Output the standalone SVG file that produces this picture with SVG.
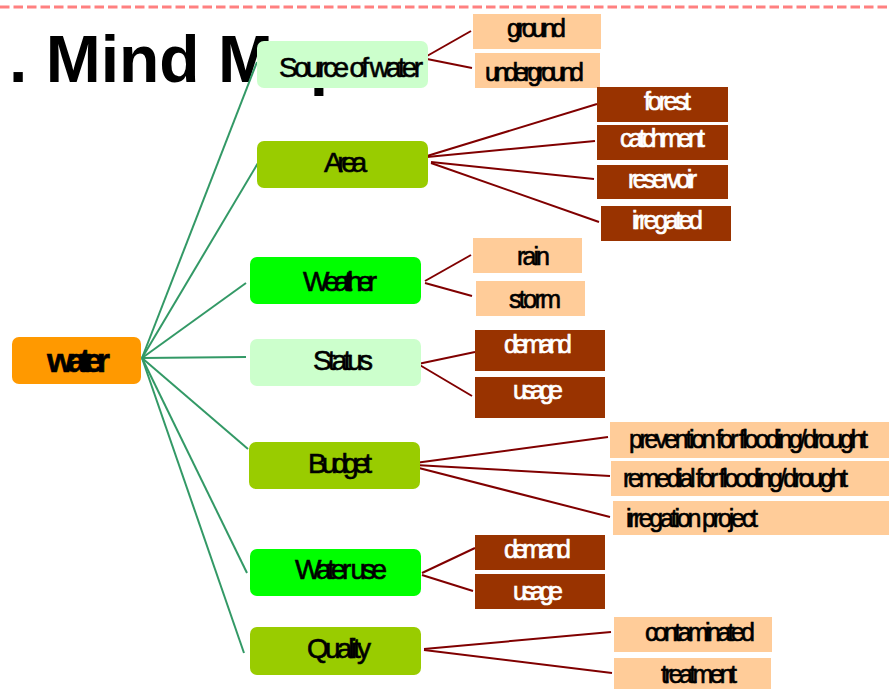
<svg xmlns="http://www.w3.org/2000/svg" width="889" height="689" viewBox="0 0 889 689">
<style>
.title{font-family:"Liberation Sans",Arial,sans-serif;font-weight:bold;font-size:66px;fill:#000}
.t{font-family:"Liberation Sans",Arial,sans-serif;fill:#000;stroke:#000;stroke-width:0.6}
.m{font-size:28px}
.l{font-size:25px}
.w{fill:#fff;stroke:#fff}
.g1{fill:#CCFFCC}
.g2{fill:#99CC00}
.g3{fill:#00FF00}
.or{fill:#FF9900}
.pe{fill:#FFCC99}
.br{fill:#993300}
.gc line{stroke:#339966;stroke-width:2}
.rc line{stroke:#800000;stroke-width:2}
</style>
<line x1="0" y1="7" x2="889" y2="7" stroke="#FF8080" stroke-width="3" stroke-dasharray="9.5,4"/>
<text class="title" x="9" y="82">. Mind Map</text>
<g id="connectors">
<g class="gc">
<line x1="142" y1="358" x2="257" y2="62"/>
<line x1="142" y1="358" x2="258" y2="163"/>
<line x1="142" y1="358" x2="246" y2="283"/>
<line x1="142" y1="358" x2="246" y2="357"/>
<line x1="142" y1="358" x2="248" y2="449"/>
<line x1="142" y1="358" x2="247" y2="573"/>
<line x1="142" y1="358" x2="244" y2="653"/>
</g>
<g class="rc">
<line x1="427" y1="56" x2="471" y2="31"/>
<line x1="427" y1="59" x2="472" y2="68"/>
<line x1="427" y1="156" x2="597" y2="104"/>
<line x1="427" y1="157" x2="595" y2="141"/>
<line x1="431" y1="162" x2="594" y2="179"/>
<line x1="431" y1="163" x2="599" y2="222"/>
<line x1="425" y1="281" x2="471" y2="255"/>
<line x1="425" y1="283" x2="472" y2="296"/>
<line x1="418" y1="364" x2="475" y2="352"/>
<line x1="418" y1="364" x2="472" y2="396"/>
<line x1="415" y1="463" x2="608" y2="437"/>
<line x1="415" y1="465" x2="610" y2="476"/>
<line x1="415" y1="467" x2="610" y2="517"/>
<line x1="422" y1="573" x2="475" y2="548"/>
<line x1="422" y1="575" x2="473" y2="591"/>
<line x1="424" y1="649" x2="611" y2="632"/>
<line x1="424" y1="650" x2="612" y2="673"/>
</g>
</g>
<g id="water"><rect class="or" x="12" y="337" width="129" height="47" rx="7"/><text class="t" x="47" y="372" font-size="34" font-weight="bold" textLength="63" lengthAdjust="spacing">water</text></g>
<g id="source"><rect class="g1" x="257" y="41" width="171" height="47" rx="7"/><text class="t m" x="279" y="77" textLength="144" lengthAdjust="spacing">Source of water</text></g>
<g id="area"><rect class="g2" x="257" y="141" width="171" height="47" rx="7"/><text class="t m" x="324" y="172" textLength="43" lengthAdjust="spacing">Area</text></g>
<g id="weather"><rect class="g3" x="250" y="257" width="171" height="47" rx="7"/><text class="t m" x="303" y="291" textLength="74" lengthAdjust="spacing">Weather</text></g>
<g id="status"><rect class="g1" x="250" y="339" width="171" height="47" rx="7"/><text class="t m" x="313" y="370" textLength="60" lengthAdjust="spacing">Status</text></g>
<g id="budget"><rect class="g2" x="249" y="442" width="171" height="47" rx="7"/><text class="t m" x="308" y="473" textLength="64" lengthAdjust="spacing">Budget</text></g>
<g id="wateruse"><rect class="g3" x="250" y="549" width="171" height="47" rx="7"/><text class="t m" x="295" y="579" textLength="92" lengthAdjust="spacing">Water use</text></g>
<g id="quality"><rect class="g2" x="250" y="627" width="171" height="48" rx="7"/><text class="t m" x="307" y="658" textLength="64" lengthAdjust="spacing">Quality</text></g>
<g id="ground"><rect class="pe" x="473" y="14" width="128" height="35"/><text class="t l" x="507" y="37" textLength="59" lengthAdjust="spacing">ground</text></g>
<g id="underground"><rect class="pe" x="475" y="53" width="125" height="35"/><text class="t l" x="485" y="81" textLength="99" lengthAdjust="spacing">underground</text></g>
<g id="forest"><rect class="br" x="597" y="87" width="131" height="35"/><text class="t l w" x="644" y="110" textLength="47" lengthAdjust="spacing">forest</text></g>
<g id="catchment"><rect class="br" x="597" y="125" width="131" height="35"/><text class="t l w" x="620" y="147" textLength="85" lengthAdjust="spacing">catchment</text></g>
<g id="reservoir"><rect class="br" x="597" y="165" width="131" height="34"/><text class="t l w" x="628" y="188" textLength="69" lengthAdjust="spacing">reservoir</text></g>
<g id="irregated"><rect class="br" x="601" y="206" width="130" height="35"/><text class="t l w" x="632" y="229" textLength="71" lengthAdjust="spacing">irregated</text></g>
<g id="rain"><rect class="pe" x="473" y="238" width="109" height="35"/><text class="t l" x="517" y="265" textLength="33" lengthAdjust="spacing">rain</text></g>
<g id="storm"><rect class="pe" x="476" y="281" width="109" height="35"/><text class="t l" x="509" y="308" textLength="52" lengthAdjust="spacing">storm</text></g>
<g id="demand1"><rect class="br" x="475" y="330" width="130" height="41"/><text class="t l w" x="504" y="353" textLength="68" lengthAdjust="spacing">demand</text></g>
<g id="usage1"><rect class="br" x="475" y="377" width="130" height="41"/><text class="t l w" x="513" y="399" textLength="50" lengthAdjust="spacing">usage</text></g>
<g id="prevention"><rect class="pe" x="610" y="422" width="279" height="36"/><text class="t l" x="629" y="448" textLength="239" lengthAdjust="spacing">prevention for flooding/drought</text></g>
<g id="remedial"><rect class="pe" x="611" y="461" width="278" height="35"/><text class="t l" x="623" y="487" textLength="225" lengthAdjust="spacing">remedial for flooding/drought</text></g>
<g id="irregation"><rect class="pe" x="613" y="501" width="276" height="34"/><text class="t l" x="626" y="527" textLength="132" lengthAdjust="spacing">irregation project</text></g>
<g id="demand2"><rect class="br" x="475" y="535" width="130" height="35"/><text class="t l w" x="504" y="558" textLength="67" lengthAdjust="spacing">demand</text></g>
<g id="usage2"><rect class="br" x="475" y="574" width="130" height="35"/><text class="t l w" x="513" y="600" textLength="50" lengthAdjust="spacing">usage</text></g>
<g id="contaminated"><rect class="pe" x="614" y="617" width="158" height="35"/><text class="t l" x="645" y="641" textLength="110" lengthAdjust="spacing">contaminated</text></g>
<g id="treatment"><rect class="pe" x="614" y="658" width="157" height="31"/><text class="t l" x="661" y="683" textLength="76" lengthAdjust="spacing">treatment</text></g>
</svg>
